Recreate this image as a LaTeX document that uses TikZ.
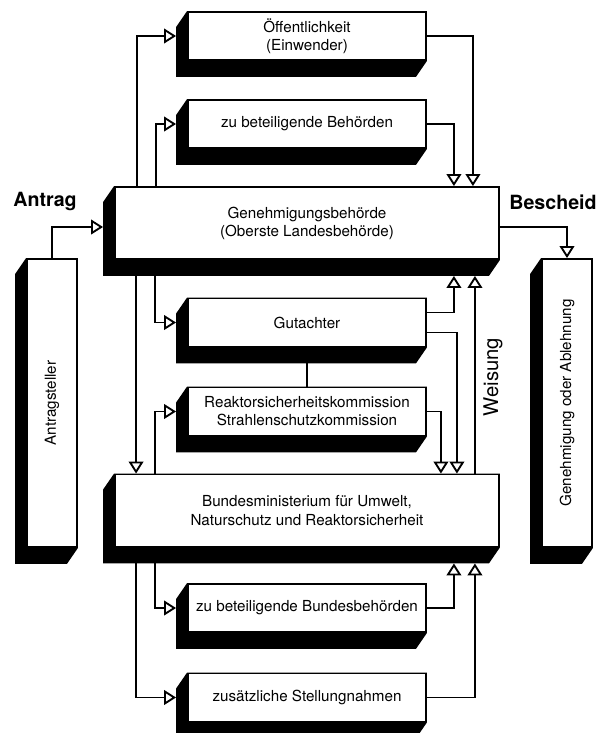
\documentclass[tikz,border=0pt]{standalone}
\usepackage{fontspec}
\setmainfont{TeX Gyre Heros}
\usetikzlibrary{arrows.meta,calc,backgrounds}
\tikzset{
  box/.style={draw,fill=white,line width=1.4pt,align=center,inner sep=2pt,font=\fontsize{11.4}{13.6}\selectfont},
  smallbox/.style={box,minimum width=178.5pt,minimum height=36pt},
  bigbox/.style={box,minimum width=288pt,minimum height=54pt},
  sidebox/.style={box,minimum width=37.5pt,minimum height=216pt},
  flow/.style={-{Triangle[open,length=9pt,width=11pt]},line width=1.4pt},
  link/.style={line width=1.4pt},
  biglabel/.style={font=\fontsize{14.7}{17}\selectfont\bfseries},
  sidelabel/.style={font=\fontsize{15.2}{18}\selectfont,rotate=90}
}

\begin{document}
\begin{tikzpicture}[x=0.75pt,y=-0.75pt]
\useasboundingbox (0,0) rectangle (599,733);
% boxes
\node[smallbox] (oeff) at (307,36) {Öffentlichkeit\\(Einwender)};
\node[smallbox] (behoe) at (307,124) {zu beteiligende Behörden};
\node[bigbox] (gen) at (307,223) {Genehmigungsbehörde\\(Oberste Landesbehörde)};
\node[smallbox] (guta) at (307,322.5) {Gutachter};
\node[smallbox] (rsk) at (307,411.5) {Reaktorsicherheitskommission\\Strahlenschutzkommission};
\node[bigbox] (bmu) at (307,510.5) {Bundesministerium für Umwelt,\\Naturschutz und Reaktorsicherheit};
\node[smallbox] (bbeh) at (307,608) {zu beteiligende Bundesbehörden};
\node[smallbox] (zus) at (307,697.5) {zusätzliche Stellungnahmen};
\node[sidebox] (antr) at (52,403) {\rotatebox{90}{Antragsteller}};
\node[sidebox] (besch) at (567,403) {\rotatebox{90}{Genehmigung oder Ablehnung}};
% black shadows
\begin{scope}[on background layer]
\foreach \n in {oeff,behoe,gen,guta,rsk,bmu,bbeh,zus,antr,besch}{
  \fill (\n.north west) -- ++(-11,16) -- ($(\n.south west)+(-11,16)$) -- ($(\n.south east)+(-11,16)$) -- (\n.south east) -- (\n.north east) -- cycle;}
\end{scope}
% labels
\node[biglabel] (antrag) at (45,201) {Antrag};
\node[biglabel] (bescheid) at (553,202) {Bescheid};
\node[sidelabel] (weisung) at (493,377) {Weisung};
% Genehmigungsbehoerde and upper boxes
\draw[flow] ($(gen.north west)+(23,0)$) |- ($(oeff.west)+(-11,0)$);
\draw[flow] ($(gen.north west)+(42,0)$) |- ($(behoe.west)+(-11,0)$);
\draw[flow] (oeff.east) -| ($(gen.north east)+(-27,0)$);
\draw[flow] (behoe.east) -| ($(gen.north east)+(-46,0)$);
\draw[flow] (antr.north) |- ($(gen.west)+(-11,4)$);
\draw[flow] ($(gen.east)+(0,4)$) -| (besch.north);
% middle part
\draw[flow] ($(gen.south west)+(22,16)$) -- ($(bmu.north west)+(22,0)$);
\draw[flow] ($(gen.south west)+(41,16)$) |- ($(guta.west)+(-11,0)$);
\draw[flow] ($(bmu.north west)+(41,0)$) |- ($(rsk.west)+(-11,0)$);
\draw[link] ($(guta.south)+(0,16)$) -- (rsk.north);
\draw[flow] ($(guta.east)+(0,-10)$) -| ($(gen.south east)+(-46,16)$);
\draw[flow] ($(guta.east)+(0,10)$) -| ($(bmu.north east)+(-43,0)$);
\draw[flow] (rsk.east) -| ($(bmu.north east)+(-59,0)$);
\draw[flow] ($(bmu.north east)+(-25,0)$) -- ($(gen.south east)+(-25,16)$);
% Bundesministerium and lower boxes
\draw[flow] ($(bmu.south west)+(41,16)$) |- ($(bbeh.west)+(-11,0)$);
\draw[flow] ($(bmu.south west)+(22,16)$) |- ($(zus.west)+(-11,0)$);
\draw[flow] (bbeh.east) -| ($(bmu.south east)+(-46,16)$);
\draw[flow] (zus.east) -| ($(bmu.south east)+(-25,16)$);
\end{tikzpicture}
\end{document}
